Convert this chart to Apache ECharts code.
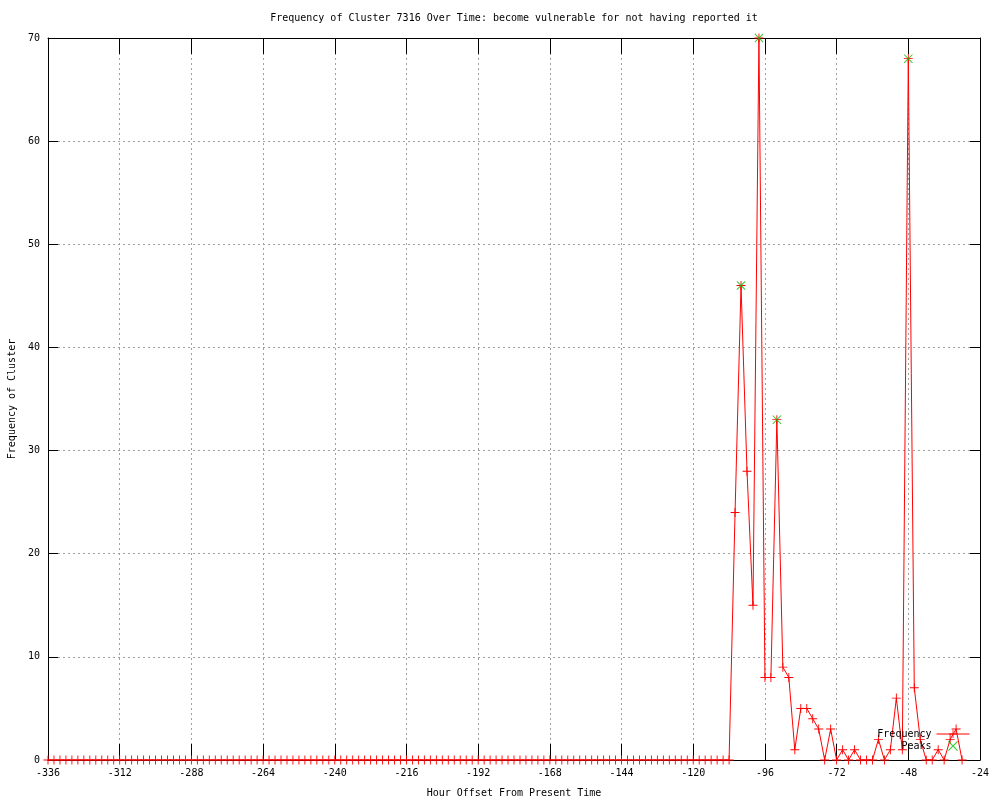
<!DOCTYPE html>
<html>
<head>
<meta charset="utf-8">
<script src="https://cdn.jsdelivr.net/npm/echarts@6/dist/echarts.min.js"></script>
<style>html,body{margin:0;padding:0;background:#fff}#c{width:1000px;height:800px}</style>
</head>
<body>
<div id="c"></div>
<script>
const hours = [
-336,-334,-332,-330,-328,-326,-324,-322,-320,-318,-316,-314,
-312,-310,-308,-306,-304,-302,-300,-298,-296,-294,-292,-290,
-288,-286,-284,-282,-280,-278,-276,-274,-272,-270,-268,-266,
-264,-262,-260,-258,-256,-254,-252,-250,-248,-246,-244,-242,
-240,-238,-236,-234,-232,-230,-228,-226,-224,-222,-220,-218,
-216,-214,-212,-210,-208,-206,-204,-202,-200,-198,-196,-194,
-192,-190,-188,-186,-184,-182,-180,-178,-176,-174,-172,-170,
-168,-166,-164,-162,-160,-158,-156,-154,-152,-150,-148,-146,
-144,-142,-140,-138,-136,-134,-132,-130,-128,-126,-124,-122,
-120,-118,-116,-114,-112,-110,-108,-106,-104,-102,-100,-98,
-96,-94,-92,-90,-88,-86,-84,-82,-80,-78,-76,-74,
-72,-70,-68,-66,-64,-62,-60,-58,-56,-54,-52,-50,
-48,-46,-44,-42,-40,-38,-36,-34,-32,-30
];
const frequency = [
0,0,0,0,0,0,0,0,0,0,0,0,
0,0,0,0,0,0,0,0,0,0,0,0,
0,0,0,0,0,0,0,0,0,0,0,0,
0,0,0,0,0,0,0,0,0,0,0,0,
0,0,0,0,0,0,0,0,0,0,0,0,
0,0,0,0,0,0,0,0,0,0,0,0,
0,0,0,0,0,0,0,0,0,0,0,0,
0,0,0,0,0,0,0,0,0,0,0,0,
0,0,0,0,0,0,0,0,0,0,0,0,
0,0,0,0,0,0,0,24,46,28,15,70,
8,8,33,9,8,1,5,5,4,3,0,3,
0,1,0,1,0,0,0,2,0,1,6,1,
68,7,2,0,0,1,0,2,3,0
];
const peakHours = [-104, -98, -92, -48];
const peakValues = [46, 70, 33, 68];
const xTicks = [-336,-312,-288,-264,-240,-216,-192,-168,-144,-120,-96,-72,-48,-24];
const yTicks = [0,10,20,30,40,50,60,70];

const FONT = '"DejaVu Sans Mono", monospace';
const FS = 10;
const plusPath = 'path://M0,4.5H10V5.5H0Z M4.5,0H5.5V10H4.5Z';
const xPath = 'path://M0,0.8L0.8,0L10,9.2L9.2,10Z M9.2,0L10,0.8L0.8,10L0,9.2Z';

const freqData = hours.map((h, i) => [h, frequency[i]]);
const peakData = peakHours.map((h, i) => [h, peakValues[i]]);

const chart = echarts.init(document.getElementById('c'), null, {renderer: 'canvas'});
const xCommon = {
  type: 'value', min: xTicks[0], max: xTicks[xTicks.length-1], interval: 24,
  axisLine: {show: true, onZero: false, lineStyle: {color: '#000', width: 1}},
};
const yCommon = {
  type: 'value', min: yTicks[0], max: yTicks[yTicks.length-1], interval: 10,
  axisLine: {show: true, onZero: false, lineStyle: {color: '#000', width: 1}},
};
chart.setOption({
  animation: false,
  backgroundColor: '#fff',
  title: {
    text: 'Frequency of Cluster 7316 Over Time: become vulnerable for not having reported it',
    left: 514, top: 13, textAlign: 'center', padding: 0,
    textStyle: {fontFamily: FONT, fontSize: FS, fontWeight: 'normal', color: '#000'}
  },
  grid: {left: 48, right: 20, top: 38, bottom: 40, containLabel: false, outerBoundsMode: 'none'},
  legend: {
    right: 30, top: 729, orient: 'vertical', align: 'right',
    itemWidth: 33, itemHeight: 10, itemGap: 2, padding: 0,
    lineStyle: {width: 1},
    textStyle: {fontFamily: FONT, fontSize: FS, color: '#000', padding: [0, 0, 0, 0]},
    data: ['Frequency', 'Peaks']
  },
  xAxis: [
    Object.assign({}, xCommon, {
      position: 'bottom',
      name: 'Hour Offset From Present Time', nameLocation: 'middle', nameGap: 28,
      nameTextStyle: {fontFamily: FONT, fontSize: FS, color: '#000'},
      axisTick: {show: true, inside: true, length: 16, lineStyle: {color: '#000'}},
      axisLabel: {fontFamily: FONT, fontSize: FS, color: '#000', margin: 8},
      splitLine: {show: true, lineStyle: {color: '#a0a0a0', type: [2, 3], width: 1}}
    }),
    Object.assign({}, xCommon, {
      position: 'top',
      axisTick: {show: true, inside: true, length: 16, lineStyle: {color: '#000'}},
      axisLabel: {show: false},
      splitLine: {show: false}
    })
  ],
  yAxis: [
    Object.assign({}, yCommon, {
      position: 'left',
      name: 'Frequency of Cluster', nameLocation: 'middle', nameGap: 30, nameRotate: 90,
      nameTextStyle: {fontFamily: FONT, fontSize: FS, color: '#000'},
      axisTick: {show: true, inside: true, length: 10, lineStyle: {color: '#000'}},
      axisLabel: {fontFamily: FONT, fontSize: FS, color: '#000', margin: 8},
      splitLine: {show: true, lineStyle: {color: '#a0a0a0', type: [2, 3], width: 1}}
    }),
    Object.assign({}, yCommon, {
      position: 'right',
      axisTick: {show: true, inside: true, length: 10, lineStyle: {color: '#000'}},
      axisLabel: {show: false},
      splitLine: {show: false}
    })
  ],
  series: [
    {
      name: 'Frequency', type: 'line', data: freqData,
      xAxisIndex: 0, yAxisIndex: 0,
      symbol: plusPath, symbolSize: 9, showSymbol: true,
      lineStyle: {color: '#ff0000', width: 1},
      itemStyle: {color: '#ff0000'},
      z: 3
    },
    {
      name: 'Peaks', type: 'scatter', data: peakData,
      xAxisIndex: 0, yAxisIndex: 0,
      symbol: xPath, symbolSize: 9,
      itemStyle: {color: '#00c000'},
      z: 4
    }
  ]
});
</script>
</body>
</html>
